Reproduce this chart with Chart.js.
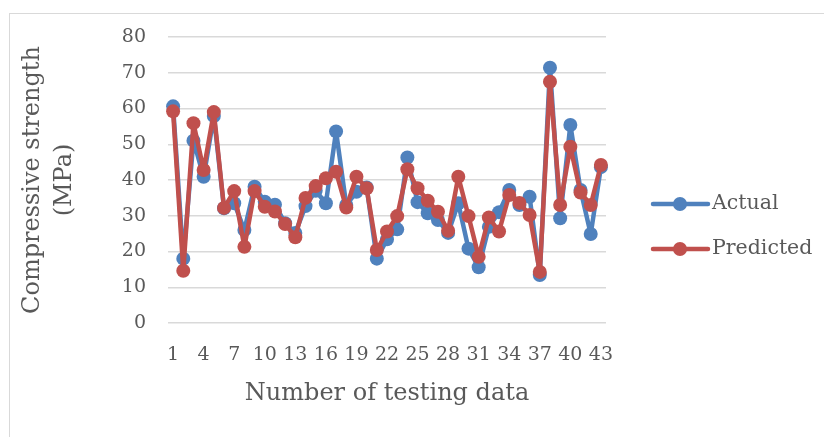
<!DOCTYPE html>
<html lang="en">
<head>
  <meta charset="UTF-8">
  <title>Compressive strength: actual vs predicted</title>
  <style>
    body { margin: 0; background: #fff; }
    #wrap { position: relative; width: 824px; height: 437px; overflow: hidden; }
    #frame { position: absolute; left: 9px; top: 13px; width: 830px; height: 440px; border: 1px solid #d9d9d9; box-sizing: border-box; }
    #chart { position: absolute; left: 0; top: 0; }
  </style>
</head>
<body>
<div id="wrap">
  <div id="frame"></div>
  <canvas id="chart" width="824" height="437"></canvas>
</div>

<script src="https://cdn.jsdelivr.net/npm/chart.js"></script>
<script>
  // sample numbers 1..43
  const labels = [];
  for (let i = 1; i <= 43; i++) labels.push(i);

  // values (MPa)
  const actual = [60.6, 18.0, 51.0, 40.9, 57.9, 32.1, 33.5, 26.0, 38.1, 33.9,
    33.1, 27.9, 25.2, 32.7, 37.0, 33.5, 53.6, 33.0, 36.7, 37.9,
    18.0, 23.4, 26.2, 46.3, 33.8, 30.7, 28.8, 25.2, 33.5, 20.8,
    15.6, 26.9, 31.0, 37.2, 33.0, 35.3, 13.4, 71.4, 29.3, 55.4,
    37.2, 24.9, 43.6];
  const predicted = [59.2, 14.6, 55.9, 42.8, 59.0, 32.2, 36.9, 21.3, 36.9, 32.5,
    31.2, 27.7, 24.0, 35.0, 38.3, 40.5, 42.3, 32.3, 40.9, 37.7,
    20.4, 25.6, 29.9, 43.0, 37.7, 34.2, 31.1, 25.8, 40.9, 29.9,
    18.5, 29.5, 25.6, 35.8, 33.6, 30.2, 14.3, 67.5, 33.0, 49.3,
    36.5, 33.0, 44.2];

  const FONT = 'DejaVu Serif';
  const GRAY = '#595959';
  const BLUE = '#4F81BD';
  const RED = '#C0504D';

  // legend drawn by hand: line with a dot, like the office chart
  const sideLegend = {
    id: 'sideLegend',
    afterDraw(chart) {
      const ctx = chart.ctx;
      const items = [['Actual', BLUE, 204], ['Predicted', RED, 249]];
      ctx.save();
      items.forEach(([txt, col, y]) => {
        ctx.strokeStyle = col;
        ctx.lineWidth = 4.5;
        ctx.lineCap = 'round';
        ctx.beginPath();
        ctx.moveTo(653, y);
        ctx.lineTo(708, y);
        ctx.stroke();
        ctx.fillStyle = col;
        ctx.beginPath();
        ctx.arc(680, y, 7, 0, Math.PI * 2);
        ctx.fill();
        ctx.fillStyle = GRAY;
        ctx.font = '20.5px "' + FONT + '"';
        ctx.textBaseline = 'middle';
        ctx.fillText(txt, 712, y);
      });
      ctx.restore();
    }
  };

  const lineStyle = {
    borderWidth: 4.5,
    pointRadius: 7,
    pointBorderWidth: 0,
    borderJoinStyle: 'round',
    borderCapStyle: 'round',
    tension: 0
  };

  new Chart(document.getElementById('chart'), {
    type: 'line',
    data: {
      labels: labels,
      datasets: [
        Object.assign({ label: 'Actual', data: actual, borderColor: BLUE, backgroundColor: BLUE, order: 1 }, lineStyle),
        Object.assign({ label: 'Predicted', data: predicted, borderColor: RED, backgroundColor: RED, order: 0 }, lineStyle)
      ]
    },
    options: {
      responsive: false,
      animation: false,
      layout: { padding: { top: 37, right: 218, left: 0, bottom: 0 } },
      plugins: {
        legend: { display: false },
        tooltip: { enabled: false }
      },
      scales: {
        x: {
          offset: true,
          grid: { display: false },
          border: { display: false },
          ticks: {
            color: GRAY,
            font: { family: FONT, size: 19 },
            autoSkip: false,
            maxRotation: 0,
            padding: 13,
            callback: (v, i) => (i % 3 === 0 ? labels[i] : '')
          },
          title: {
            display: true,
            text: 'Number of testing data',
            color: GRAY,
            font: { family: FONT, size: 24 },
            padding: { top: 0, bottom: 29 }
          },
          afterFit: (s) => { s.height = 114; }
        },
        y: {
          min: 0,
          max: 80,
          grid: { color: '#d9d9d9', lineWidth: 1.5, drawTicks: false, tickLength: 0 },
          border: { display: false },
          ticks: {
            stepSize: 10,
            color: GRAY,
            font: { family: FONT, size: 19 },
            padding: 22
          },
          title: {
            display: true,
            text: ['Compressive strength', '(MPa)'],
            color: GRAY,
            font: { family: FONT, size: 24, lineHeight: 1.33 },
            padding: { top: 17, bottom: 0 }
          },
          afterFit: (s) => { s.width = 168; }
        }
      }
    },
    plugins: [sideLegend]
  });
</script>
</body>
</html>
